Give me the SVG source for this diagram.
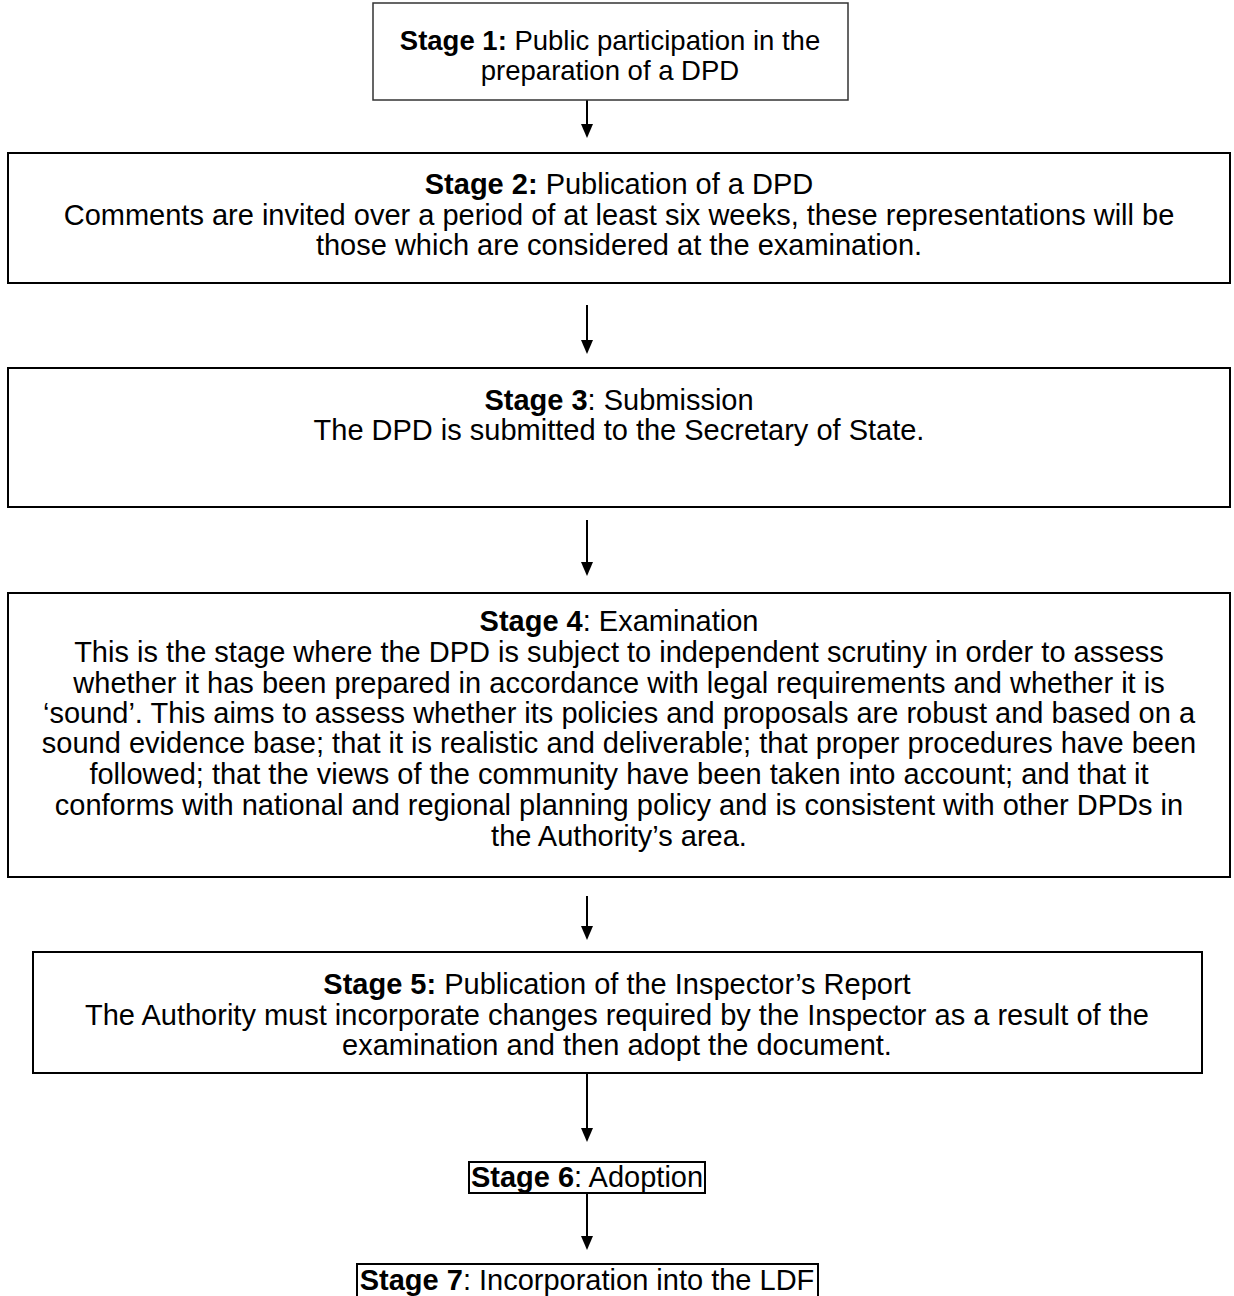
<svg xmlns="http://www.w3.org/2000/svg" width="1234" height="1296" viewBox="0 0 1234 1296">
<defs>
<style>
.box{fill:#fff;stroke:#000;stroke-width:2}
.t{font-family:"Liberation Sans",Arial,Helvetica,sans-serif;font-size:29px;fill:#000;text-anchor:middle}
.s1{font-size:27.5px}
.b{font-weight:bold}
.c{stroke:#000;stroke-width:2;fill:none}
.hd{fill:#000}
</style>
</defs>
<rect width="1234" height="1296" fill="#fff"/>
<g id="connectors">
<line class="c" x1="587" y1="100" x2="587" y2="126"/><path class="hd" d="M581,124 L593,124 L587,138 Z"/>
<line class="c" x1="587" y1="305" x2="587" y2="342"/><path class="hd" d="M581,340 L593,340 L587,354 Z"/>
<line class="c" x1="587" y1="520" x2="587" y2="564"/><path class="hd" d="M581,562 L593,562 L587,576 Z"/>
<line class="c" x1="587" y1="896" x2="587" y2="928"/><path class="hd" d="M581,926 L593,926 L587,940 Z"/>
<line class="c" x1="587" y1="1073" x2="587" y2="1130"/><path class="hd" d="M581,1128 L593,1128 L587,1142 Z"/>
<line class="c" x1="587" y1="1193" x2="587" y2="1238"/><path class="hd" d="M581,1236 L593,1236 L587,1250 Z"/>
</g>
<g id="stage1">
<rect class="box" x="373" y="3" width="475" height="97" style="stroke:#333;stroke-width:1.5"/>
<text class="t s1" x="610" y="50"><tspan class="b">Stage 1:</tspan> Public participation in the</text>
<text class="t s1" x="610" y="80">preparation of a DPD</text>
</g>
<g id="stage2">
<rect class="box" x="8" y="153" width="1222" height="130"/>
<text class="t" x="619" y="194"><tspan class="b">Stage 2:</tspan> Publication of a DPD</text>
<text class="t" x="619" y="225">Comments are invited over a period of at least six weeks, these representations will be</text>
<text class="t" x="619" y="255">those which are considered at the examination.</text>
</g>
<g id="stage3">
<rect class="box" x="8" y="368" width="1222" height="139"/>
<text class="t" x="619" y="410"><tspan class="b">Stage 3</tspan>: Submission</text>
<text class="t" x="619" y="440">The DPD is submitted to the Secretary of State.</text>
</g>
<g id="stage4">
<rect class="box" x="8" y="593" width="1222" height="284"/>
<text class="t" x="619" y="631"><tspan class="b">Stage 4</tspan>: Examination</text>
<text class="t" x="619" y="662">This is the stage where the DPD is subject to independent scrutiny in order to assess</text>
<text class="t" x="619" y="693">whether it has been prepared in accordance with legal requirements and whether it is</text>
<text class="t" x="619" y="723">‘sound’. This aims to assess whether its policies and proposals are robust and based on a</text>
<text class="t" x="619" y="753">sound evidence base; that it is realistic and deliverable; that proper procedures have been</text>
<text class="t" x="619" y="784">followed; that the views of the community have been taken into account; and that it</text>
<text class="t" x="619" y="815">conforms with national and regional planning policy and is consistent with other DPDs in</text>
<text class="t" x="619" y="846">the Authority’s area.</text>
</g>
<g id="stage5">
<rect class="box" x="33" y="952" width="1169" height="121"/>
<text class="t" x="617" y="994"><tspan class="b">Stage 5:</tspan> Publication of the Inspector’s Report</text>
<text class="t" x="617" y="1025">The Authority must incorporate changes required by the Inspector as a result of the</text>
<text class="t" x="617" y="1055">examination and then adopt the document.</text>
</g>
<g id="stage6">
<rect class="box" x="469" y="1162" width="236" height="31"/>
<text class="t" x="587" y="1187"><tspan class="b">Stage 6</tspan>: Adoption</text>
</g>
<g id="stage7">
<rect class="box" x="357" y="1264" width="461" height="40"/>
<text class="t" x="587" y="1290"><tspan class="b">Stage 7</tspan>: Incorporation into the LDF</text>
</g>
</svg>
